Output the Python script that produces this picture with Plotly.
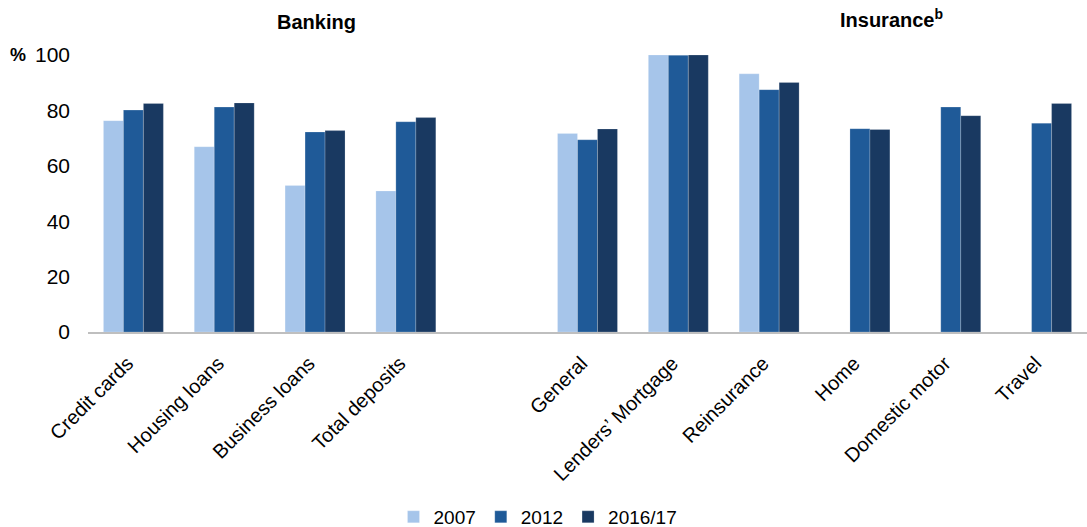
import plotly.graph_objects as go

categories = ["Credit cards", "Housing loans", "Business loans", "Total deposits", " ",
              "General", "Lenders\u2019 Mortgage", "Reinsurance", "Home", "Domestic motor", "Travel"]
series_names = ["2007", "2012", "2016/17"]
values_2007 = [76.3, 66.9, 52.9, 50.9, None, 71.7, 100.0, 93.2, None, None, None]
values_2012 = [80.1, 81.2, 72.2, 75.9, None, 69.4, 99.9, 87.5, 73.4, 81.2, 75.4]
values_2016 = [82.5, 82.7, 72.7, 77.4, None, 73.3, 100.0, 90.1, 73.1, 78.1, 82.5]
y_ticks = [0, 20, 40, 60, 80, 100]

colors = ["#A6C5EA", "#1F5A98", "#193961"]
font_family = "Liberation Sans, Arial, sans-serif"

fig = go.Figure()
for name, vals, col in zip(series_names, [values_2007, values_2012, values_2016], colors):
    fig.add_trace(go.Bar(
        x=categories, y=vals, name=name,
        marker=dict(color=col, line=dict(color="rgba(255,255,255,0.25)", width=0.8)),
    ))

W, H = 1087, 527
L, R, T, B = 88, 0, 55, 195
pw = W - L - R
ph = H - T - B

def px_x(x):
    return (x - L) / pw

def px_y(y):
    return 1 + (T - y) / ph

fig.update_layout(
    width=W, height=H,
    margin=dict(l=L, r=R, t=T, b=B, autoexpand=False),
    barmode="group", bargap=0.34, bargroupgap=0,
    plot_bgcolor="white", paper_bgcolor="white",
    font=dict(family=font_family, size=19, color="#000000"),
    showlegend=True,
    legend=dict(orientation="h", x=px_x(538), xanchor="center", y=px_y(517), yanchor="middle",
                font=dict(size=19), itemwidth=30, traceorder="normal"),
    xaxis=dict(type="category", categoryorder="array", categoryarray=categories,
               showline=True, linecolor="#BFBFBF", linewidth=1.5, showgrid=False,
               ticks="", tickangle=-45, tickfont=dict(size=20), ticklabelstandoff=10,
               ticklabelshift=-6),
    yaxis=dict(range=[0, 100], tickvals=y_ticks, showgrid=False, zeroline=False,
               showline=False, ticks="", tickfont=dict(size=21), ticklabelstandoff=17),
)

fig.add_annotation(text="<b>%</b>", xref="paper", yref="y", x=px_x(18), y=100,
                   xanchor="center", yanchor="middle",
                   showarrow=False, font=dict(size=18, family=font_family))
fig.add_annotation(text="<b>Banking</b>", xref="paper", yref="paper", x=px_x(316), y=px_y(22),
                   xanchor="center", yanchor="middle",
                   showarrow=False, font=dict(size=20, family=font_family))
fig.add_annotation(text="<b>Insurance<sup>b</sup></b>", xref="paper", yref="paper", x=px_x(891), y=px_y(19),
                   xanchor="center", yanchor="middle",
                   showarrow=False, font=dict(size=20, family=font_family))

fig.write_html("out.html", config={"displayModeBar": False},
               post_script="document.body.style.margin='0px';")
